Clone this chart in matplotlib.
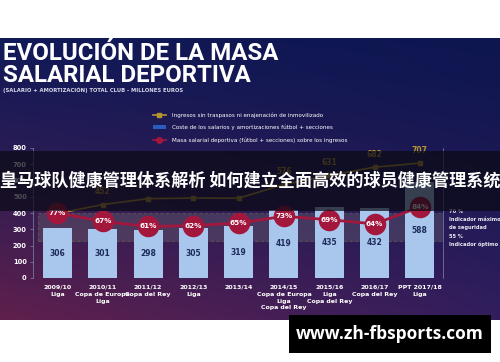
import numpy as np
import matplotlib
matplotlib.use("Agg")
import matplotlib.pyplot as plt
from matplotlib.patches import Rectangle, Patch
from matplotlib.lines import Line2D

# data
seasons = ["2009/10\nLiga", "2010/11\nCopa de Europa\nLiga", "2011/12\nCopa del Rey",
           "2012/13\nLiga", "2013/14", "2014/15\nCopa de Europa\nLiga\nCopa del Rey",
           "2015/16\nLiga\nCopa del Rey", "2016/17\nCopa del Rey", "PPT 2017/18\nLiga"]
salaries = [306, 301, 298, 305, 319, 419, 435, 432, 588]
income = [397, 452, 488, 492, 491, 576, 631, 682, 707]
ratio = [77, 67, 61, 62, 65, 73, 69, 64, 84]
income_labels = [None, 452, None, None, None, 576, 631, 682, 707]
band_low, band_high = 228, 400

W, H = 500, 362
fig = plt.figure(figsize=(W / 100, H / 100), dpi=100)
fig.patch.set_facecolor("white")

def fx(px):
    return px / W

def fy(py):
    return 1 - py / H

# dark background picture
bg = fig.add_axes([0, fy(320), 1, fy(38) - fy(320)], zorder=0)
bg.axis("off")
tl = np.array([18, 26, 88]) / 255
tr = np.array([14, 22, 80]) / 255
bl = np.array([96, 32, 76]) / 255
br = np.array([50, 30, 94]) / 255
u = np.linspace(0, 1, 200)[None, :, None]
v = np.linspace(0, 1, 120)[:, None, None]
v2 = v ** 1.3
img = (1 - v2) * ((1 - u) * tl + u * tr) + v2 * ((1 - u) * bl + u * br)
bg.imshow(img, aspect="auto", extent=[0, 1, 0, 1])

# titles
fig.text(fx(3), fy(53), "EVOLUCIÓN DE LA MASA", color="white", fontsize=17.3,
         fontweight="bold", family="Roboto", va="center")
fig.text(fx(3), fy(76), "SALARIAL DEPORTIVA", color="white", fontsize=17.3,
         fontweight="bold", family="Roboto", va="center")
fig.text(fx(3), fy(90), "(SALARIO + AMORTIZACIÓN) TOTAL CLUB - MILLONES EUROS",
         color="#d8d8e8", fontsize=3.8, fontweight="bold", va="center")

gold = "#b8952c"
blue = "#a9c7ec"
red = "#a4173d"

handles = [Line2D([0], [0], color=gold, lw=1.2, marker="s", ms=3),
           Patch(facecolor="#2a5cc0"),
           Line2D([0], [0], color=red, lw=1.2, marker="o", ms=4)]
labels = ["Ingresos sin traspasos ni enajenación de inmovilizado",
          "Coste de los salarios y amortizaciones fútbol + secciones",
          "Masa salarial deportiva (fútbol + secciones) sobre los ingresos"]
fig.legend(handles, labels, loc="upper left", bbox_to_anchor=(fx(148), fy(107)),
           frameon=False, fontsize=4.1, labelcolor="white", handlelength=2.2,
           labelspacing=1.25, handletextpad=1.2)

# main chart
ax = fig.add_axes([fx(33), fy(278), fx(443) - fx(33), fy(148) - fy(278)], zorder=2)
ax.patch.set_alpha(0)
x = np.arange(len(salaries))
ax.set_xlim(-0.54, 8.51)
ax.set_ylim(0, 800)

ax.add_patch(Rectangle((-0.43, band_low), 8.98, band_high - band_low,
                       facecolor="#7a7a7a", alpha=0.3, edgecolor="#8f9e4e",
                       linestyle=(0, (3, 2)), lw=0.8, zorder=1))

ax.bar(x, salaries, width=0.64, color=blue, zorder=2)
for xi, s in zip(x, salaries):
    ax.text(xi, s / 2, str(s), ha="center", va="center", fontsize=5.5,
            fontweight="bold", color="#1e2c5a", zorder=3)

ax.plot(x, income, color=gold, lw=1.2, marker="s", ms=2.5, zorder=4)
for xi, val, lab in zip(x, income, income_labels):
    if lab is not None:
        ax.annotate(str(lab), (xi, val), xytext=(0, 6), textcoords="offset points",
                    ha="center", va="bottom", fontsize=5.5, fontweight="bold",
                    color=gold, zorder=4)

ax2 = ax.twinx()
ax2.set_ylim(0, 800 / 5.2)
ax2.plot(x, ratio, color=red, lw=2, marker="o", ms=14.5, zorder=5)
for xi, p in zip(x, ratio):
    ax2.text(xi, p, f"{p}%", ha="center", va="center", fontsize=5.2,
             fontweight="bold", color="white", zorder=6)
ax2.set_yticks([])
for sp in ax2.spines.values():
    sp.set_visible(False)

for sp in ["top", "bottom"]:
    ax.spines[sp].set_visible(False)
ax.spines["left"].set_color("#8088a8")
ax.spines["left"].set_linewidth(0.5)
ax.spines["right"].set_color("#8088a8")
ax.spines["right"].set_linewidth(0.5)
ax.set_yticks(range(0, 801, 100))
ax.tick_params(axis="y", colors="#8088a8", length=2.5, width=0.5, labelsize=4.8,
               labelcolor="white", pad=2)
for t in ax.get_yticklabels():
    t.set_fontweight("bold")
ax.set_xticks(x, seasons)
ax.tick_params(axis="x", length=0, pad=5, labelsize=4.5, labelcolor="white")
for t in ax.get_xticklabels():
    t.set_fontweight("bold")
    t.set_linespacing(1.45)

# right side indicators
side = [("70 %", 212), ("Indicador máximo", 219.5), ("de seguridad", 227),
        ("55 %", 237), ("Indicador óptimo", 244)]
for txt, py in side:
    fig.text(fx(449), fy(py), txt, color="#e8e8f0", fontsize=3.7,
             fontweight="bold", va="center")

# overlay banner and watermark
ov = fig.add_axes([0, 0, 1, 1], zorder=10)
ov.axis("off")
ov.set_xlim(0, 1)
ov.set_ylim(0, 1)
ov.add_patch(Rectangle((0, fy(211)), 1, fy(151) - fy(211), facecolor="#0a0a14",
                       alpha=0.72, edgecolor="none"))
ov.text(0.5, fy(181), "皇马球队健康管理体系解析 如何建立全面高效的球员健康管理系统",
        ha="center", va="center", color="white", fontsize=12.3, fontweight="bold",
        family=["Noto Sans CJK SC", "DejaVu Sans"])
ov.add_patch(Rectangle((fx(289), fy(353)), fx(491) - fx(289), fy(315) - fy(353),
                       facecolor="black", edgecolor="none"))
ov.text(fx(390), fy(334), "www.zh-fbsports.com", ha="center", va="center",
        color="white", fontsize=12.5, fontweight="bold", family="Open Sans")

fig.savefig("out.png", dpi=100)
